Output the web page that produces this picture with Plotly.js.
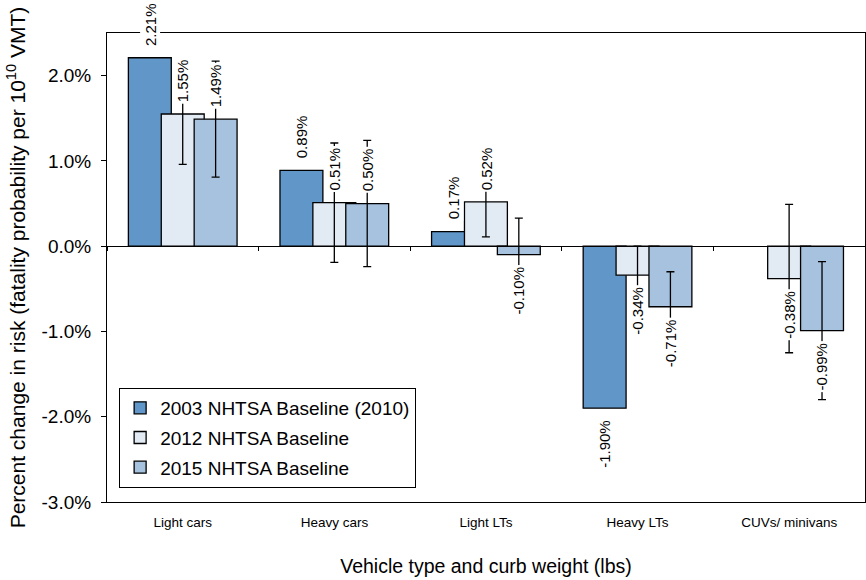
<!DOCTYPE html>
<html>
<head>
<meta charset="utf-8">
<script src="https://cdn.plot.ly/plotly-3.0.1.min.js"></script>
<style>
  html, body { margin: 0; padding: 0; background: #ffffff; }
  #chart { width: 866px; height: 580px; }
</style>
</head>
<body>
<div id="chart"></div>
<script>
// Vehicle classes on the x axis
const categories = ["Light cars", "Heavy cars", "Light LTs", "Heavy LTs", "CUVs/ minivans"];

// Series names
const seriesNames = ["2003 NHTSA Baseline (2010)", "2012 NHTSA Baseline", "2015 NHTSA Baseline"];

// Percent change in risk per series (null = no estimate)
const baseline2003 = [2.21, 0.89, 0.17, -1.90, null];
const baseline2012 = [1.55, 0.51, 0.52, -0.34, -0.38];
const baseline2015 = [1.49, 0.50, -0.10, -0.71, -0.99];

// Confidence half-widths (no intervals for the 2003 baseline)
const err2012 = [0.59, 0.70, 0.41, 0.34, 0.87];
const err2015 = [0.68, 0.74, 0.43, 0.41, 0.81];

// Y axis ticks
const yTickVals = [-3, -2, -1, 0, 1, 2];
const yTickText = yTickVals.map(v => v.toFixed(1) + "%");

const FONT = "Arial, 'Liberation Sans', sans-serif";
const colors = ["#6096C8", "#E2EAF4", "#A6C2DF"];
const barWidth = 0.283;
const offsets = [-0.359, -0.142, 0.075];

const seriesValues = [baseline2003, baseline2012, baseline2015];
const seriesErrors = [null, err2012, err2015];

const traces = seriesValues.map((vals, k) => {
  const t = {
    type: "bar",
    name: seriesNames[k],
    legendgroup: "g" + k,
    x: categories,
    y: vals,
    width: barWidth,
    offset: offsets[k],
    marker: { color: colors[k], line: { color: "#000000", width: 1.3 } },
    hoverinfo: "x+y+name"
  };
  if (seriesErrors[k]) {
    t.error_y = { type: "data", array: seriesErrors[k], visible: true,
                  color: "#000000", thickness: 1.3, width: 4 };
  }
  return t;
});

// Helper trace carrying the category ticks along the zero line
traces.push({
  type: "scatter", mode: "markers", x: categories, y: categories.map(() => null),
  xaxis: "x2", yaxis: "y", showlegend: false, hoverinfo: "skip"
});

// Rotated value labels, placed above positive bars and below negative ones
const annotations = [];
seriesValues.forEach((vals, k) => {
  vals.forEach((v, i) => {
    if (v === null) return;
    annotations.push({
      x: i + offsets[k] + barWidth / 2,
      y: v,
      xref: "x", yref: "y",
      text: v.toFixed(2) + "%",
      showarrow: false,
      textangle: -90,
      xanchor: "center",
      yanchor: v >= 0 ? "bottom" : "top",
      yshift: v >= 0 ? 10 : -10,
      bgcolor: "#ffffff",
      borderpad: 1,
      font: { family: FONT, size: 15, color: "#000000" }
    });
  });
});

const zeroPos = 3 / 5.5;

const layout = {
  width: 866, height: 580,
  margin: { l: 107, r: 1, t: 33, b: 78 },
  paper_bgcolor: "#ffffff",
  plot_bgcolor: "#ffffff",
  barmode: "overlay",
  font: { family: FONT, color: "#000000" },
  showlegend: true,
  legend: {
    x: 0.016, y: 0.03, xanchor: "left", yanchor: "bottom",
    bgcolor: "#ffffff", bordercolor: "#000000", borderwidth: 1,
    font: { family: FONT, size: 19, color: "#000000" },
    traceorder: "grouped", tracegroupgap: 2
  },
  xaxis: {
    type: "category",
    categoryarray: categories,
    range: [-0.5, 4.5],
    showline: true, linecolor: "#000000", linewidth: 1, mirror: true,
    ticks: "", showgrid: false, zeroline: false,
    tickfont: { family: FONT, size: 13.5, color: "#000000" },
    ticklabelstandoff: 8,
    title: { text: "Vehicle type and curb weight (lbs)", standoff: 30,
             font: { family: FONT, size: 19.5, color: "#000000" } }
  },
  xaxis2: {
    type: "category",
    categoryarray: categories,
    range: [-0.5, 4.5],
    overlaying: "x",
    anchor: "free",
    position: zeroPos,
    showline: true, linecolor: "#000000", linewidth: 1,
    ticks: "outside", tickson: "boundaries", ticklen: 4, tickcolor: "#000000",
    showticklabels: false, showgrid: false, zeroline: false
  },
  yaxis: {
    range: [-3, 2.5],
    tickvals: yTickVals, ticktext: yTickText,
    showline: true, linecolor: "#000000", linewidth: 1, mirror: true,
    ticks: "outside", ticklen: 5, tickcolor: "#000000",
    showgrid: false, zeroline: false,
    tickfont: { family: FONT, size: 19, color: "#000000" },
    ticklabelstandoff: 6,
    title: { text: "Percent change in risk (fatality probability per 10<sup>10</sup> VMT)",
             standoff: 10,
             font: { family: FONT, size: 21, color: "#000000" } }
  },
  annotations: annotations
};

Plotly.newPlot("chart", traces, layout, { displayModeBar: false, staticPlot: true });
</script>
</body>
</html>
